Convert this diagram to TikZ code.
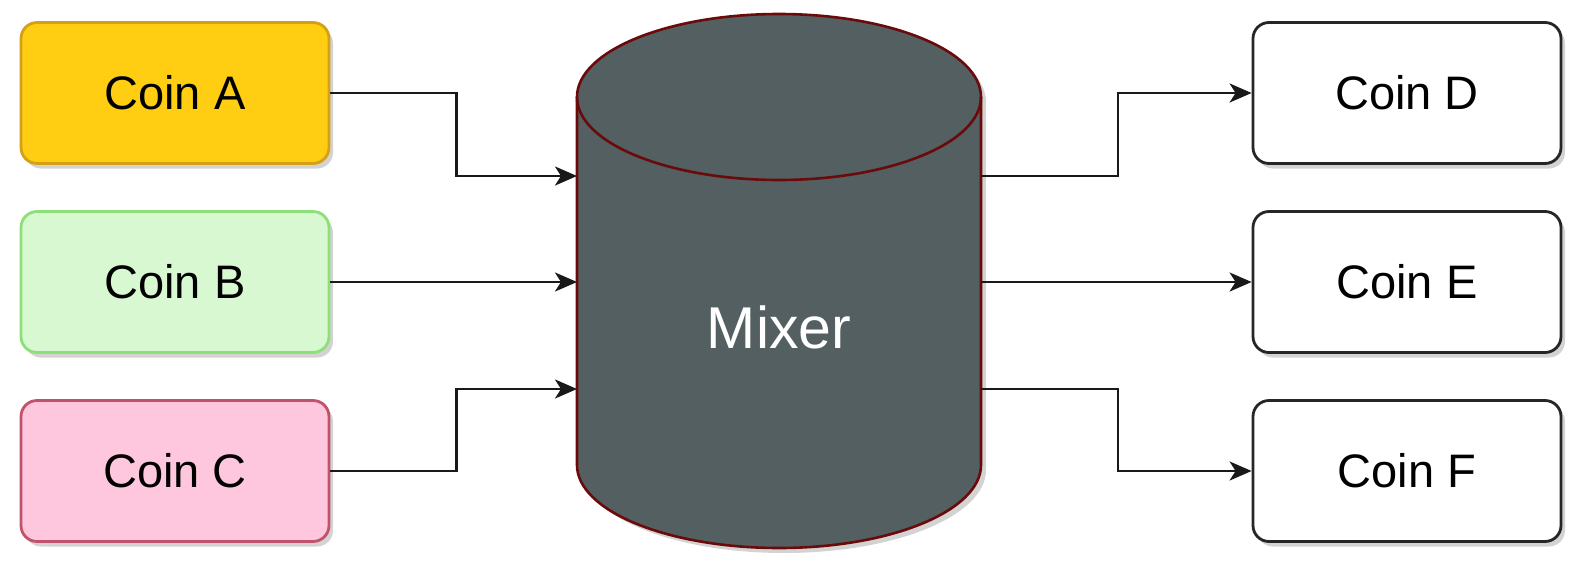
\documentclass[tikz,border=0pt]{standalone}
\usepackage{fontspec}
\setmainfont{Liberation Sans}
\usetikzlibrary{arrows.meta,shadows}
\definecolor{coinAfill}{HTML}{FFCD12}
\definecolor{coinAline}{HTML}{D4A017}
\definecolor{coinBfill}{HTML}{D7F8D0}
\definecolor{coinBline}{HTML}{8CE077}
\definecolor{coinCfill}{HTML}{FEC7DD}
\definecolor{coinCline}{HTML}{C0536B}
\definecolor{mixfill}{HTML}{535F61}
\definecolor{mixline}{HTML}{6B0A0A}
\begin{document}
\begin{tikzpicture}[x=1pt,y=-1pt,
  coinbox/.style={rectangle, rounded corners=16pt, minimum width=308pt, minimum height=141pt,
    line width=2.8pt, font=\fontsize{47}{56}\selectfont, text=black,
    drop shadow={shadow xshift=4pt, shadow yshift=-5pt, opacity=0.35, fill=gray}},
  arr/.style={line width=2.6pt, draw=black!90, -{Stealth[length=22pt,width=19pt,inset=6pt]}}]
\useasboundingbox (0,0) rectangle (1575,563);
% mixer cylinder
\fill[gray, opacity=0.35] (582,102) -- (582,470) arc (180:0:202 and 83) -- (986,102) arc (0:-180:202 and 83) -- cycle;
\filldraw[fill=mixfill, draw=mixline, line width=2.6pt]
  (577,97) -- (577,465) arc (180:0:202 and 83) -- (981,97) arc (0:-180:202 and 83) -- cycle;
\draw[mixline, line width=2.6pt] (577,97) arc (180:0:202 and 83);
\node[text=white, font=\fontsize{59}{70}\selectfont] (mixer) at (779,327) {Mixer};
% coin boxes
\node[coinbox, fill=coinAfill, draw=coinAline] (a) at (175,93) {Coin A};
\node[coinbox, fill=coinBfill, draw=coinBline] (b) at (175,282) {Coin B};
\node[coinbox, fill=coinCfill, draw=coinCline] (c) at (175,471) {Coin C};
\node[coinbox, fill=white, draw=black!85] (d) at (1407,93) {Coin D};
\node[coinbox, fill=white, draw=black!85] (e) at (1407,282) {Coin E};
\node[coinbox, fill=white, draw=black!85] (f) at (1407,471) {Coin F};
% attachment points on the mixer
\coordinate (inA) at (577,176);
\coordinate (inB) at (577,282);
\coordinate (inC) at (577,389);
\coordinate (outD) at (981,176);
\coordinate (outE) at (981,282);
\coordinate (outF) at (981,389);
% connectors
\draw[arr] (a.east) -- ++(126,0) |- (inA);
\draw[arr] (b.east) -- (inB);
\draw[arr] (c.east) -- ++(126,0) |- (inC);
\draw[arr] (outD) -- ++(137,0) |- (d.west);
\draw[arr] (outE) -- (e.west);
\draw[arr] (outF) -- ++(137,0) |- (f.west);
\end{tikzpicture}
\end{document}
